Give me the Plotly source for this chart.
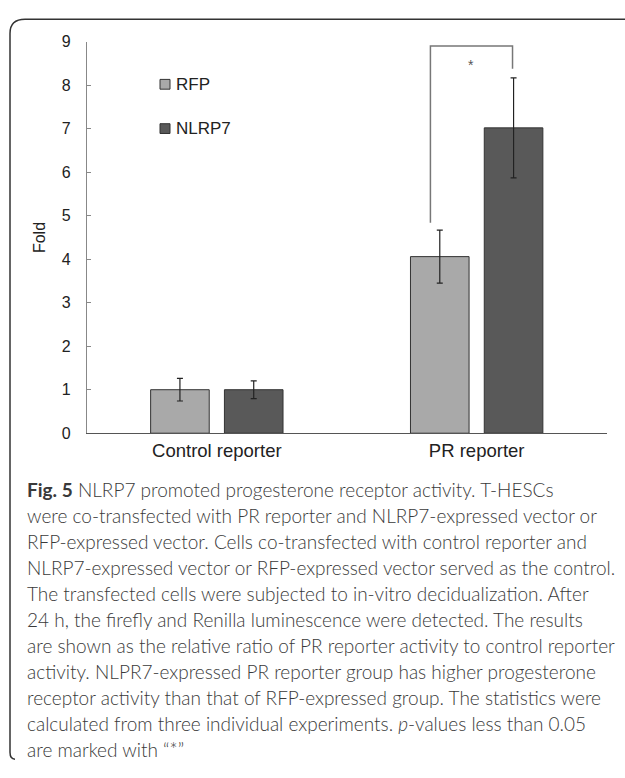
import plotly.graph_objects as go

# ---- data ----
categories = ["Control reporter", "PR reporter"]
rfp_values = [1.0, 4.06]
rfp_errors = [0.26, 0.61]
nlrp7_values = [1.0, 7.02]
nlrp7_errors = [0.205, 1.15]
y_ticks = [0, 1, 2, 3, 4, 5, 6, 7, 8, 9]
series_names = ["RFP", "NLRP7"]
sig_label = "*"
sig_top = 8.9
sig_left_bottom = 4.84
sig_right_bottom = 8.38

caption_lines = [
    "<b>Fig. 5</b> NLRP7 promoted progesterone receptor activity. T-HESCs",
    "were co-transfected with PR reporter and NLRP7-expressed vector or",
    "RFP-expressed vector. Cells co-transfected with control reporter and",
    "NLRP7-expressed vector or RFP-expressed vector served as the control.",
    "The transfected cells were subjected to in-vitro decidualization. After",
    "24 h, the firefly and Renilla luminescence were detected. The results",
    "are shown as the relative ratio of PR reporter activity to control reporter",
    "activity. NLPR7-expressed PR reporter group has higher progesterone",
    "receptor activity than that of RFP-expressed group. The statistics were",
    "calculated from three individual experiments. <i>p</i>-values less than 0.05",
    "are marked with \u201c*\u201d",
]

W, H = 625, 778
def px(x):
    return x / W
def py(y):
    return 1 - y / H

RFP_COLOR = "#a9a9a9"
NLRP7_COLOR = "#595959"
ARIAL = "Liberation Sans, Arial, sans-serif"

fig = go.Figure()
fig.add_trace(go.Bar(
    x=categories, y=rfp_values, name=series_names[0],
    marker=dict(color=RFP_COLOR, line=dict(color="#333333", width=1)),
    error_y=dict(type="data", array=rfp_errors, color="#222222", thickness=1.2, width=3),
    showlegend=False,
))
fig.add_trace(go.Bar(
    x=categories, y=nlrp7_values, name=series_names[1],
    marker=dict(color=NLRP7_COLOR, line=dict(color="#333333", width=1)),
    error_y=dict(type="data", array=nlrp7_errors, color="#222222", thickness=1.2, width=3),
    showlegend=False,
))

# significance bracket (category axis numeric positions)
xl, xr = 0.822, 1.138
fig.add_shape(type="path", xref="x", yref="y",
              path=f"M {xl},{sig_left_bottom} L {xl},{sig_top} L {xr},{sig_top} L {xr},{sig_right_bottom}",
              line=dict(color="#777777", width=1.5))
fig.add_annotation(x=0.98, y=8.47, xref="x", yref="y", text=sig_label, showarrow=False,
                   font=dict(family=ARIAL, size=14, color="#555555"))

# manual legend
for name, color, cy in [(series_names[0], RFP_COLOR, 78), (series_names[1], NLRP7_COLOR, 123.3)]:
    fig.add_shape(type="rect", xref="paper", yref="paper",
                  x0=px(160), x1=px(170), y0=py(cy + 5), y1=py(cy - 5),
                  fillcolor=color, line=dict(color="#333333", width=1))
    fig.add_annotation(x=px(173.5), y=py(cy), xref="paper", yref="paper", text=name,
                       showarrow=False, xanchor="left", yanchor="middle",
                       font=dict(family=ARIAL, size=17, color="#222222"))

# frame
frame = (f"M {px(625)},{py(11.5)} L {px(25)},{py(11.5)} Q {px(10)},{py(11.5)} {px(10)},{py(26)} "
         f"L {px(10)},{py(761)} Q {px(10)},{py(768)} {px(15)},{py(768)}")
fig.add_shape(type="path", xref="paper", yref="paper", path=frame,
              line=dict(color="#333333", width=1.5))

# caption
for i, line in enumerate(caption_lines):
    fig.add_annotation(x=px(25), y=py(492 + 26.6 * i), xref="paper", yref="paper",
                       text=line, showarrow=False, xanchor="left", yanchor="middle",
                       font=dict(family="Lato, sans-serif", size=19, color="#3a3a3a", weight=300))

fig.update_layout(
    width=W, height=H,
    margin=dict(l=0, r=0, t=0, b=0),
    paper_bgcolor="white", plot_bgcolor="white",
    barmode="group", bargap=0.432, bargroupgap=0.206,
    xaxis=dict(domain=[px(86.9), px(606.6)], showline=True, linecolor="#555555", linewidth=1.2,
               ticks="", showgrid=False, zeroline=False,
               tickfont=dict(family=ARIAL, size=18.5, color="#222222")),
    yaxis=dict(domain=[py(434.7), py(34.5)], range=[0, 9], tickvals=y_ticks,
               showline=True, linecolor="#888888", linewidth=1.2,
               ticks="inside", ticklen=4, tickcolor="#888888",
               showgrid=False, zeroline=False, ticklabelstandoff=12,
               tickfont=dict(family=ARIAL, size=16, color="#222222"),
               title=dict(text="Fold", standoff=12, font=dict(family=ARIAL, size=16, color="#222222"))),
    font=dict(family=ARIAL),
)

fig.write_html(
    "out.html",
    config={"displayModeBar": False},
    post_script="document.body.style.margin='0';document.body.style.padding='0';document.body.style.overflow='hidden';",
)
